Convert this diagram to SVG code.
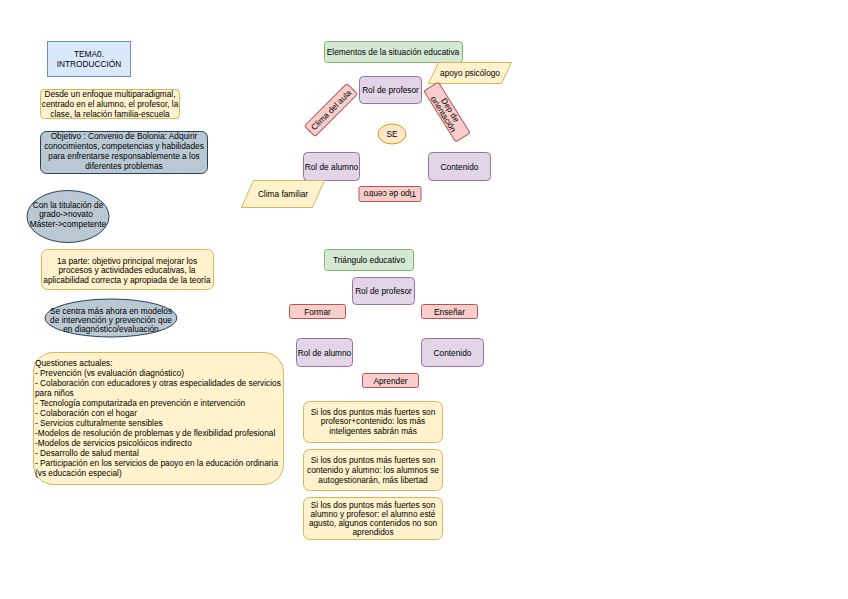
<svg xmlns="http://www.w3.org/2000/svg" width="848" height="599" viewBox="0 0 848 599">
<style>
text{font-family:"Liberation Sans",Arial,sans-serif;font-size:8.3px;fill:#000}
.c{text-anchor:middle;dominant-baseline:central}
.l{dominant-baseline:central}
.blue{fill:#dae8fc;stroke:#6c8ebf;stroke-width:1}
.yel{fill:#fff2cc;stroke:#d6b656;stroke-width:1}
.gry{fill:#bac8d3;stroke:#23445d;stroke-width:1}
.grn{fill:#d5e8d4;stroke:#82b366;stroke-width:1}
.pur{fill:#e1d5e7;stroke:#9673a6;stroke-width:1}
.red{fill:#f8cecc;stroke:#b85450;stroke-width:1}
.org{fill:#ffe6cc;stroke:#d79b00;stroke-width:1}
</style>
<rect width="848" height="599" fill="#ffffff"/>
<g id="connectors"/>
<g id="tema"><rect class="blue" x="47.5" y="41.5" width="83" height="35"/><text class="c" x="89" y="54">TEMA0.</text><text class="c" x="89" y="64">INTRODUCCIÓN</text></g>
<g id="desde"><rect class="yel" x="40.5" y="89.5" width="139" height="29" rx="4"/><text class="c" x="110" y="93.5">Desde un enfoque multiparadigmal,</text><text class="c" x="110" y="104">centrado en el alumno, el profesor, la</text><text class="c" x="110" y="114">clase, la relación familia-escuela</text></g>
<g id="objetivo"><rect class="gry" x="40.5" y="131.5" width="167" height="42" rx="6"/><text class="c" x="124" y="135.5">Objetivo : Convenio de Bolonia: Adquirir</text><text class="c" x="124" y="145.5">conocimientos, competencias y habilidades</text><text class="c" x="124" y="156">para enfrentarse responsablemente a los</text><text class="c" x="124" y="166">diferentes problemas</text></g>
<g id="titulacion"><ellipse class="gry" cx="68" cy="216.5" rx="41" ry="26"/><text class="c" x="68" y="205">Con la titulación de</text><text class="c" x="66" y="214">grado-&gt;novato</text><text class="c" x="68" y="223.5">Máster-&gt;competente</text></g>
<g id="parte1"><rect class="yel" x="41.5" y="249.5" width="172" height="40" rx="6"/><text class="c" x="127" y="261">1a parte: objetivo principal mejorar los</text><text class="c" x="127" y="270">procesos y actividades educativas, la</text><text class="c" x="127" y="280">aplicabilidad correcta y apropiada de la teoría</text></g>
<g id="centra"><ellipse class="gry" cx="111" cy="318" rx="66" ry="19"/><text class="c" x="111" y="310.5">Se centra más ahora en modelos</text><text class="c" x="111" y="320">de intervención y prevención que</text><text class="c" x="111" y="329">en diagnóstico/evaluación</text></g>
<g id="cuestiones"><rect class="yel" x="33.5" y="352.5" width="250" height="132" rx="20"/>
<text class="l" x="35" y="362.5">Questiones actuales:</text>
<text class="l" x="35" y="372.5">- Prevención (vs evaluación diagnóstico)</text>
<text class="l" x="35" y="382.5">- Colaboración con educadores y otras especialidades de servicios</text>
<text class="l" x="35" y="392.5">para niños</text>
<text class="l" x="35" y="402.5">- Tecnología computarizada en prevención e intervención</text>
<text class="l" x="35" y="412.5">- Colaboración con el hogar</text>
<text class="l" x="35" y="422.5">- Servicios culturalmente sensibles</text>
<text class="l" x="35" y="432.5">-Modelos de resolución de problemas  y de flexibilidad profesional</text>
<text class="l" x="35" y="442.5">-Modelos de servicios psicolóicos indirecto</text>
<text class="l" x="35" y="452.5">- Desarrollo de salud mental</text>
<text class="l" x="35" y="462.5">- Participación en los servicios de paoyo en la educación ordinaria</text>
<text class="l" x="35" y="472.5">(vs educación especial)</text></g>
<g id="elementos"><rect class="grn" x="324.5" y="41.5" width="138" height="21" rx="3"/><text class="c" x="393" y="52">Elementos de la situación educativa</text></g>
<g id="apoyo"><polygon class="yel" points="438.5,62.5 511.5,62.5 501.5,83.5 428.5,83.5"/><text class="c" x="470" y="73">apoyo psicólogo</text></g>
<g id="rolprof1"><rect class="pur" x="359.5" y="76.5" width="62" height="27" rx="4"/><text class="c" x="390.5" y="90">Rol de profesor</text></g>
<g id="climaaula" transform="translate(331 110) rotate(-45)"><rect class="red" x="-30" y="-7.5" width="60" height="15" rx="2"/><text class="c" x="0" y="0">Clima del aula</text></g>
<g id="deporient" transform="translate(447 112) rotate(58)"><rect class="red" x="-30" y="-8.5" width="60" height="17" rx="2"/><text class="c" x="0" y="-4">Dep de</text><text class="c" x="0" y="4">orientación</text></g>
<g id="se"><ellipse class="org" cx="392" cy="134" rx="14" ry="10"/><text class="c" x="392" y="134">SE</text></g>
<g id="rolalum1"><rect class="pur" x="303.5" y="152.5" width="56" height="28" rx="4"/><text class="c" x="331.5" y="166.5">Rol de alumno</text></g>
<g id="contenido1"><rect class="pur" x="428.5" y="152.5" width="62" height="28" rx="4"/><text class="c" x="459.5" y="166.5">Contenido</text></g>
<g id="climafam"><polygon class="yel" points="253.5,180.5 324.5,180.5 312.5,207.5 241.5,207.5"/><text class="c" x="283" y="194">Clima familiar</text></g>
<g id="tipocentro" transform="translate(390 194) rotate(180)"><rect class="red" x="-31" y="-7.5" width="62" height="15" rx="2"/><text class="c" x="0" y="0">Tipo de centro</text></g>
<g id="triangulo"><rect class="grn" x="324.5" y="249.5" width="89" height="21" rx="3"/><text class="c" x="369" y="260">Triángulo educativo</text></g>
<g id="rolprof2"><rect class="pur" x="352.5" y="277.5" width="62" height="27" rx="4"/><text class="c" x="383.5" y="291">Rol de profesor</text></g>
<g id="formar"><rect class="red" x="289.5" y="304.5" width="56" height="14" rx="2"/><text class="c" x="317.5" y="311.5">Formar</text></g>
<g id="ensenar"><rect class="red" x="421.5" y="304.5" width="56" height="14" rx="2"/><text class="c" x="449.5" y="311.5">Enseñar</text></g>
<g id="rolalum2"><rect class="pur" x="296.5" y="338.5" width="56" height="28" rx="4"/><text class="c" x="324.5" y="352.5">Rol de alumno</text></g>
<g id="contenido2"><rect class="pur" x="421.5" y="338.5" width="62" height="28" rx="4"/><text class="c" x="452.5" y="352.5">Contenido</text></g>
<g id="aprender"><rect class="red" x="362.5" y="373.5" width="56" height="14" rx="2"/><text class="c" x="390.5" y="380.5">Aprender</text></g>
<g id="punto1"><rect class="yel" x="303.5" y="401.5" width="139" height="41" rx="6"/><text class="c" x="373" y="411.5">Si los dos puntos más fuertes son</text><text class="c" x="373" y="421">profesor+contenido: los más</text><text class="c" x="373" y="431">inteligentes sabrán más</text></g>
<g id="punto2"><rect class="yel" x="303.5" y="449.5" width="139" height="41" rx="6"/><text class="c" x="373" y="460">Si los dos puntos más fuertes son</text><text class="c" x="373" y="470">contenido y alumno: los alumnos se</text><text class="c" x="373" y="480">autogestionarán, más libertad</text></g>
<g id="punto3"><rect class="yel" x="303.5" y="497.5" width="139" height="42" rx="6"/><text class="c" x="373" y="505">Si los dos puntos más fuertes son</text><text class="c" x="373" y="514">alumno y profesor: el alumno esté</text><text class="c" x="373" y="523">agusto, algunos contenidos no son</text><text class="c" x="373" y="532">aprendidos</text></g>
</svg>
